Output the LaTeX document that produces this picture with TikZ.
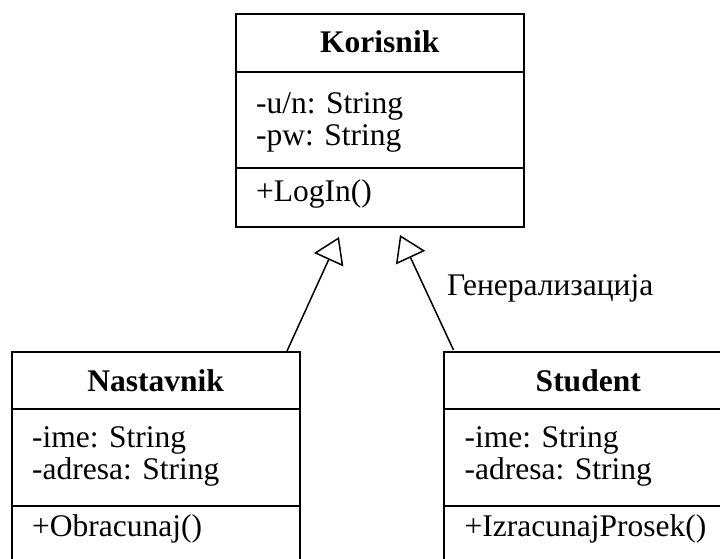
\documentclass[tikz,border=0pt]{standalone}
\usepackage{fontspec}
\setmainfont{Liberation Serif}
\usetikzlibrary{arrows.meta,calc}
\begin{document}
\begin{tikzpicture}[x=1pt,y=-1pt,
  classbox/.style={draw, line width=2pt, minimum width=288.5pt, minimum height=212.5pt, inner sep=0pt, anchor=north west},
  divline/.style={line width=2pt},
  txt/.style={inner sep=0pt, anchor=base west, font=\fontsize{31.5}{35}\selectfont},
  ttl/.style={inner sep=0pt, anchor=base, font=\fontsize{31.5}{35}\selectfont\bfseries},
  gen/.style={line width=1.5pt, -{Triangle[open, length=25pt, width=32pt]}}
]
\clip (0,0) rectangle (720,558);
% Korisnik
\node[classbox] (kor) at (234.5,13) {};
\draw[divline] ($(kor.north west)+(0,58.5)$) -- ($(kor.north east)+(0,58.5)$);
\draw[divline] ($(kor.north west)+(0,155)$) -- ($(kor.north east)+(0,155)$);
\node[ttl] (korT) at ($(kor.north)+(0,39.5)$) {Korisnik};
\node[txt] (korA1) at ($(kor.north west)+(21.5,100)$) {-u/n: String};
\node[txt] (korA2) at ($(kor.north west)+(21.5,132)$) {-pw: String};
\node[txt] (korM1) at ($(kor.north west)+(21.5,188.7)$) {+LogIn()};
% Nastavnik
\node[classbox] (nas) at (10.5,351) {};
\draw[divline] ($(nas.north west)+(0,58)$) -- ($(nas.north east)+(0,58)$);
\draw[divline] ($(nas.north west)+(0,154.5)$) -- ($(nas.north east)+(0,154.5)$);
\node[ttl] (nasT) at ($(nas.north)+(0,40.7)$) {Nastavnik};
\node[txt] (nasA1) at ($(nas.north west)+(21.5,96)$) {-ime: String};
\node[txt] (nasA2) at ($(nas.north west)+(21.5,128)$) {-adresa: String};
\node[txt] (nasM1) at ($(nas.north west)+(21.5,185.7)$) {+Obracunaj()};
% Student
\node[classbox] (stu) at (443,351) {};
\draw[divline] ($(stu.north west)+(0,58)$) -- ($(stu.north east)+(0,58)$);
\draw[divline] ($(stu.north west)+(0,154.5)$) -- ($(stu.north east)+(0,154.5)$);
\node[ttl] (stuT) at ($(stu.north)+(0,40.7)$) {Student};
\node[txt] (stuA1) at ($(stu.north west)+(21.5,96)$) {-ime: String};
\node[txt] (stuA2) at ($(stu.north west)+(21.5,128)$) {-adresa: String};
\node[txt] (stuM1) at ($(stu.north west)+(21.5,185.7)$) {+IzracunajProsek()};
% generalization connectors
\coordinate (tipL) at ($(kor.south west)+(104.5,9.5)$);
\coordinate (tipR) at ($(kor.south west)+(165.5,7.5)$);
\coordinate (tailL) at ($(nas.north west)+(276.5,0)$);
\coordinate (tailR) at ($(stu.north west)+(10.5,-1)$);
\draw[gen] (tailL) -- (tipL);
\draw[gen] (tailR) -- (tipR);
\node[txt] (genlbl) at (447,295) {Генерализација};
\end{tikzpicture}
\end{document}
